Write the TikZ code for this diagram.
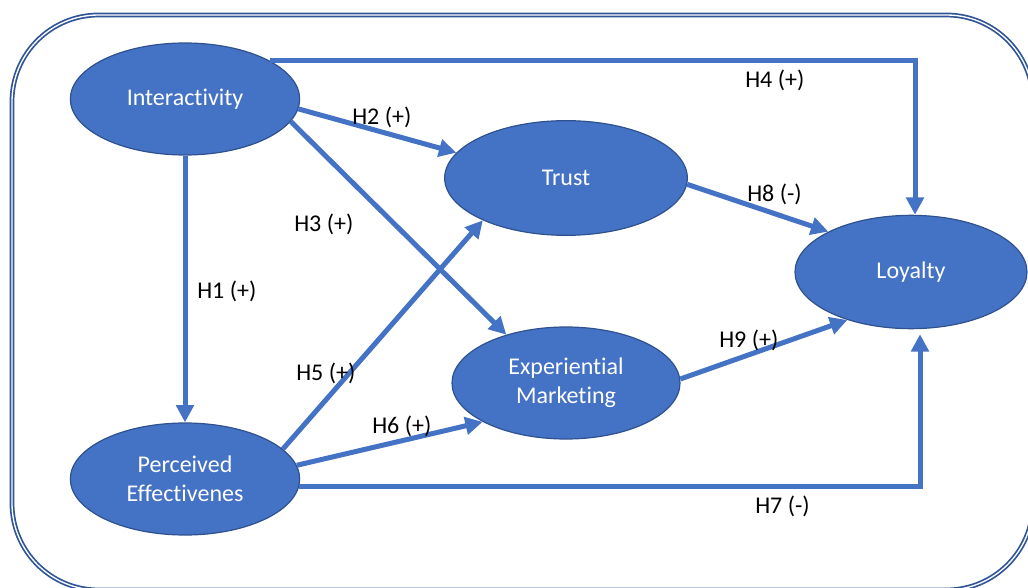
\documentclass[tikz,border=0pt]{standalone}
\usepackage{fontspec}
\setmainfont{Carlito}[Ligatures=NoCommon]
\usepackage{tikz}
\usetikzlibrary{
  arrows.meta,
  shapes.geometric
}
\definecolor{nodeblue}{HTML}{4472C4}
\definecolor{rimblue}{HTML}{2F528F}
\definecolor{frameblue}{HTML}{2F5597}
\tikzset{
  construct/.style={
    ellipse,
    draw=rimblue,
    line width=0.9pt,
    fill=nodeblue,
    text=white,
    align=center,
    inner sep=0pt,
    minimum width=172pt,
    minimum height=84pt,
    font=\fontsize{18}{22}\selectfont
  },
  hyplabel/.style={inner sep=0pt,anchor=base west,font=\fontsize{18}{22}\selectfont},
  hyparrow/.style={draw=nodeblue,line width=3.75pt,-{Triangle[length=13pt,width=13pt]}},
  outerframe/.style={draw=frameblue,double=white,double distance=1pt,line width=1.3pt,rounded corners=65pt},
}

\begin{document}
\begin{tikzpicture}[x=0.75pt,y=-0.75pt]
  \clip (0,0) rectangle (1028,588);
  \draw[outerframe] (12,15) rectangle (1033,590);

  % Constructs
  \node[construct] (inter) at (185,99) {\raisebox{-2pt}{Interactivity}};
  \node[construct] (perc) at (185,479) {Perceived\\Effectivenes};
  \node[construct,minimum width=182pt,minimum height=86pt] (trust) at (566,178) {Trust};
  \node[construct,minimum width=171pt] (exper) at (566,383) {Experiential\\Marketing};
  \node[construct,minimum width=174pt,minimum height=85pt] (loyal) at (911,272) {Loyalty};

  % Hypotheses
  \draw[hyparrow] (inter.south) -- (perc.north);
  \draw[hyparrow] (inter.-5) -- (trust.167);
  \draw[hyparrow] (inter.-12) -- (exper.141);
  \draw[hyparrow] (inter.24) -| ([xshift=3pt]loyal.north);
  \draw[hyparrow] (perc.17) -- (trust.207);
  \draw[hyparrow] (perc.7) -- (exper.205);
  \draw[hyparrow] (perc.-4) -| ([xshift=6.75pt,yshift=-3.75pt]loyal.south);
  \draw[hyparrow] (trust.-3) -- (loyal.154);
  \draw[hyparrow] (exper.2) -- (loyal.217);

  % Labels
  \node[hyplabel] (h1) at (197,298) {H1 (+)};
  \node[hyplabel] (h2) at (352,125) {H2 (+)};
  \node[hyplabel] (h3) at (294,232) {H3 (+)};
  \node[hyplabel] (h4) at (745,88) {H4 (+)};
  \node[hyplabel] (h5) at (296,380) {H5 (+)};
  \node[hyplabel] (h6) at (372,433) {H6 (+)};
  \node[hyplabel] (h7) at (755,513) {H7 (-)};
  \node[hyplabel] (h8) at (747,202) {H8 (-)};
  \node[hyplabel] (h9) at (719,347) {H9 (+)};
\end{tikzpicture}
\end{document}
